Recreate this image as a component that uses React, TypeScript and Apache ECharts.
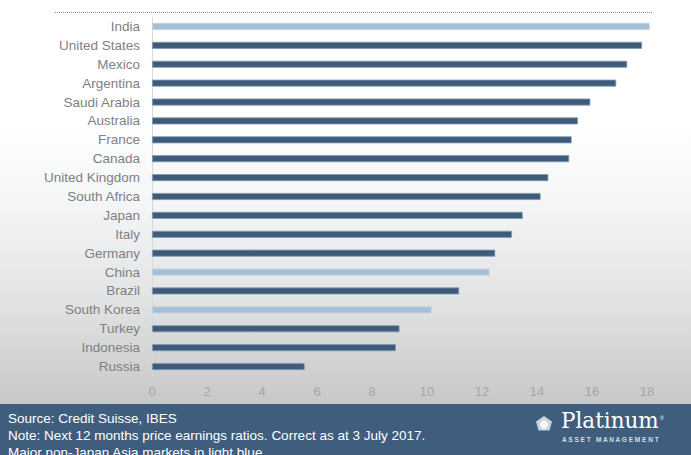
import React, { useEffect, useRef } from "react";
import * as echarts from "echarts";

const countries = [
  "India", "United States", "Mexico", "Argentina", "Saudi Arabia", "Australia",
  "France", "Canada", "United Kingdom", "South Africa", "Japan", "Italy",
  "Germany", "China", "Brazil", "South Korea", "Turkey", "Indonesia", "Russia",
];
const peRatios = [
  18.1, 17.82, 17.28, 16.88, 15.94, 15.49, 15.26, 15.17, 14.41, 14.13,
  13.48, 13.09, 12.48, 12.27, 11.17, 10.17, 9.0, 8.87, 5.55,
];
const asiaMarkets = ["India", "China", "South Korea"];
const xTicks = [0, 2, 4, 6, 8, 10, 12, 14, 16, 18];
const footerLines = [
  "Source: Credit Suisse, IBES",
  "Note: Next 12 months price earnings ratios. Correct as at 3 July 2017.",
  "Major non-Japan Asia markets in light blue.",
];

const DARK = "#3e5c7a";
const LIGHT = "#a7bfd5";

export default function App() {
  const ref = useRef<HTMLDivElement>(null);
  useEffect(() => {
    document.body.style.margin = "0";
    if (!ref.current) return;
    const chart = echarts.init(ref.current, undefined, { renderer: "svg" });
    const font = "'Liberation Sans', Arial, sans-serif";
    chart.setOption({
      animation: false,
      backgroundColor: "transparent",
      grid: { left: 152, right: 44, top: 17, bottom: 79 },
      xAxis: {
        type: "value",
        min: xTicks[0],
        max: xTicks[xTicks.length - 1],
        interval: 2,
        axisLine: { show: false },
        axisTick: { show: false },
        splitLine: { show: false },
        axisLabel: { color: "#a6a6a6", fontSize: 13, fontFamily: font, margin: 9 },
      },
      yAxis: {
        type: "category",
        data: countries,
        inverse: true,
        axisLine: { show: true, lineStyle: { color: "#d9d9d9", width: 1 } },
        axisTick: { show: false },
        axisLabel: { color: "#7f7f7f", fontSize: 13.5, fontFamily: font, margin: 12 },
      },
      series: [
        {
          type: "bar",
          clip: false,
          barWidth: 7,
          data: peRatios.map((v, i) => {
            const light = asiaMarkets.includes(countries[i]);
            return {
              value: v,
              itemStyle: {
                color: light ? LIGHT : DARK,
                borderColor: light ? "#c3d3e2" : "#8299b0",
                borderWidth: 0.8,
              },
            };
          }),
        },
      ],
      graphic: [
        {
          type: "line",
          shape: { x1: 55, y1: 12.5, x2: 652, y2: 12.5 },
          style: { stroke: "#8c8c8c", lineWidth: 1, lineDash: [1, 1] },
          z: 10,
        },
        {
          type: "rect",
          shape: { x: 0, y: 404, width: 691, height: 51 },
          style: { fill: "#3f5d7c" },
          z: 10,
        },
        ...footerLines.map((t, i) => ({
          type: "text",
          x: 8,
          y: 418 + i * 17,
          style: {
            text: t,
            fill: "#ffffff",
            font: `13.5px ${font}`,
            verticalAlign: "middle",
          },
          z: 11,
        })),
        {
          type: "polygon",
          shape: {
            points: [
              [544, 416], [552, 421.5], [549.5, 430.5], [538.5, 430.5], [536, 421.5],
            ],
          },
          style: { fill: "#c9d2dc" },
          z: 11,
        },
        {
          type: "circle",
          shape: { cx: 544, cy: 424.5, r: 4.2 },
          style: { fill: "#f4f6f8" },
          z: 12,
        },
        {
          type: "text",
          x: 561,
          y: 431,
          style: {
            text: "Platinum",
            fill: "#ffffff",
            font: "21.5px 'DejaVu Serif', 'Liberation Serif', serif",
            verticalAlign: "bottom",
          },
          z: 11,
        },
        {
          type: "text",
          x: 660,
          y: 415,
          style: { text: "®", fill: "#ffffff", font: `5px ${font}` },
          z: 11,
        },
        {
          type: "text",
          x: 562,
          y: 439.5,
          style: {
            text: "A S S E T   M A N A G E M E N T",
            fill: "#d5dde6",
            font: `bold 6.5px ${font}`,
            verticalAlign: "middle",
          },
          z: 11,
        },
      ],
    });
    return () => chart.dispose();
  }, []);
  return (
    <div
      style={{
        width: 691,
        height: 455,
        background:
          "linear-gradient(to bottom, #ffffff 0px, #ffffff 120px, #f4f6f7 200px, #e2e3e4 300px, #c8c8c8 404px)",
      }}
    >
      <div ref={ref} style={{ width: 691, height: 455 }} />
    </div>
  );
}
